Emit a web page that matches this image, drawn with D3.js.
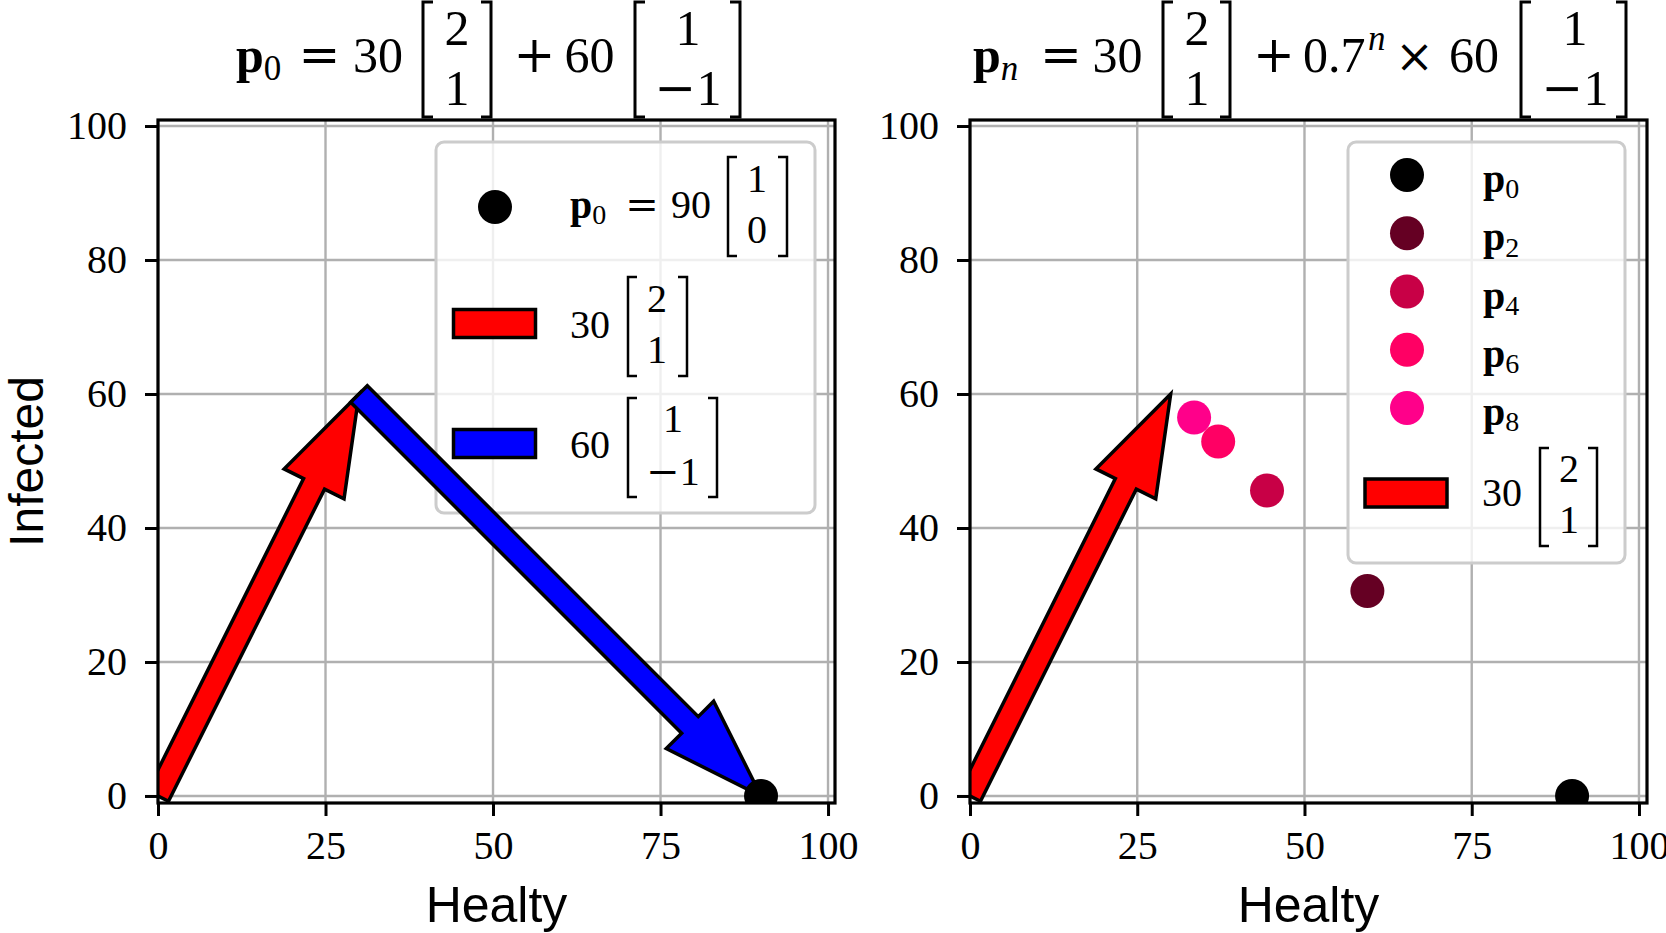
<!DOCTYPE html>
<html>
<head>
<meta charset="utf-8">
<script src="https://cdn.jsdelivr.net/npm/d3@7"></script>
<style>
  body { margin: 0; background: #fff; }
  svg text { font-family: "Liberation Serif", serif; fill: #000; }
  svg text.op { font-family: "DejaVu Serif", serif; }
  svg text.lab { font-family: "Liberation Sans", sans-serif; }
</style>
</head>
<body>
<div id="chart"></div>
<script>
// data
const xTicks = [0, 25, 50, 75, 100];
const yTicks = [0, 20, 40, 60, 80, 100];

// arrows: tail point + vector (Healty, Infected)
const arrowTails = [[0, 0], [30, 60]];
const arrowVecs = [[30, 60], [60, -60]];

const p0Point = [90, 0];

// right panel points p_0, p_2, ... p_8
const pnNames = ["0", "2", "4", "6", "8"];
const pnX = [90, 59.4, 44.4, 37.1, 33.5];
const pnY = [0, 30.6, 45.6, 52.9, 56.5];

// vector entries used in titles / legends
const vecA = ["2", "1"];
const vecB = ["1", "\u22121"];
const vecP0 = ["1", "0"];

const W = 1666, H = 933;
const plotTop = 120, plotBottom = 803;
const yMin = -1.05, yMax = 100.9;

const red = "#ff0000", blue = "#0000ff";
const pnColors = ["#000000", "#650023", "#c80046", "#ff0064", "#ff008a"];

const svg = d3.select("#chart")
    .append("svg")
    .attr("width", W)
    .attr("height", H)
    .attr("viewBox", `0 0 ${W} ${H}`);

const defs = svg.append("defs");

// small helpers
const txt = (g, x, y, s, size, anchor = "middle") =>
    g.append("text")
        .attr("x", x).attr("y", y)
        .attr("font-size", size)
        .attr("text-anchor", anchor)
        .text(s);

// operators (=, +, x) in a font with wider math glyphs
const op = (g, x, y, s, size) => txt(g, x, y, s, size).attr("class", "op");

// entry text; a leading minus is drawn in the operator font
const entry = (g, x, y, s, size) => {
    const t = g.append("text")
        .attr("x", x).attr("y", y)
        .attr("font-size", size)
        .attr("text-anchor", "middle");
    if (s.startsWith("\u2212")) {
        t.append("tspan").style("font-family", "DejaVu Serif, serif").text("\u2212");
        t.append("tspan").text(s.slice(1));
    } else {
        t.text(s);
    }
    return t;
};

// bold p with subscript
const pSub = (g, x, y, sub, size, italicSub = false) => {
    const t = g.append("text").attr("x", x).attr("y", y).attr("font-size", size);
    t.append("tspan").attr("font-weight", "bold").text("p");
    t.append("tspan")
        .attr("font-size", size * 0.7)
        .attr("dy", size * 0.16)
        .attr("font-style", italicSub ? "italic" : "normal")
        .text(sub);
    return t;
};

// column vector with square brackets
const matrix = (g, xl, xr, yt, yb, entries, cx, baselines, size, sw, hook) => {
    const path = `M${xl + hook},${yt}H${xl}V${yb}H${xl + hook}` +
                 `M${xr - hook},${yt}H${xr}V${yb}H${xr - hook}`;
    g.append("path")
        .attr("d", path)
        .attr("fill", "none")
        .attr("stroke", "#000")
        .attr("stroke-width", sw);
    entries.forEach((e, i) => entry(g, cx, baselines[i], e, size));
};

// matplotlib style FancyArrow (length includes head)
const arrowPath = (xs, ys, x0, y0, dx, dy) => {
    const len = Math.hypot(dx, dy);
    const ux = dx / len, uy = dy / len, vx = -uy, vy = ux;
    const w = 3.5, hw = 10, hl = 15;
    const loc = [[len, 0], [len - hl, hw / 2], [len - hl, w / 2], [0, w / 2],
                 [0, -w / 2], [len - hl, -w / 2], [len - hl, -hw / 2]];
    return "M" + loc.map(([u, v]) =>
        [xs(x0 + u * ux + v * vx), ys(y0 + u * uy + v * vy)].join(",")).join("L") + "Z";
};

const panels = [
    { id: "L", left: 158, right: 835, xMax: 101.04 },
    { id: "R", left: 970, right: 1647, xMax: 101.2 }
];

const makePanel = (p) => {
    const xs = d3.scaleLinear().domain([0, p.xMax]).range([p.left, p.right]);
    const ys = d3.scaleLinear().domain([yMin, yMax]).range([plotBottom, plotTop]);

    defs.append("clipPath").attr("id", "clip" + p.id)
        .append("rect")
        .attr("x", p.left).attr("y", plotTop)
        .attr("width", p.right - p.left).attr("height", plotBottom - plotTop);

    const root = svg.append("g");
    const grid = root.append("g");
    const legend = root.append("g");
    const marks = root.append("g").attr("clip-path", `url(#clip${p.id})`);
    const frame = root.append("g");

    grid.selectAll("line.gx")
        .data(xTicks)
        .join("line")
        .attr("class", "gx")
        .attr("x1", d => xs(d)).attr("x2", d => xs(d))
        .attr("y1", plotTop).attr("y2", plotBottom)
        .attr("stroke", "#b0b0b0").attr("stroke-width", 2.4);

    grid.selectAll("line.gy")
        .data(yTicks)
        .join("line")
        .attr("class", "gy")
        .attr("x1", p.left).attr("x2", p.right)
        .attr("y1", d => ys(d)).attr("y2", d => ys(d))
        .attr("stroke", "#b0b0b0").attr("stroke-width", 2.4);

    const bottomAxis = d3.axisBottom(xs)
        .tickValues(xTicks)
        .tickSize(13)
        .tickPadding(15)
        .tickFormat(d3.format("d"));

    const leftAxis = d3.axisLeft(ys)
        .tickValues(yTicks)
        .tickSize(13)
        .tickPadding(18)
        .tickFormat(d3.format("d"));

    frame.append("g")
        .attr("transform", `translate(0, ${plotBottom})`)
        .call(bottomAxis);
    frame.append("g")
        .attr("transform", `translate(${p.left}, 0)`)
        .call(leftAxis);

    frame.selectAll(".domain").remove();
    frame.selectAll(".tick line").attr("stroke", "#000").attr("stroke-width", 3);
    frame.selectAll(".tick text")
        .attr("font-size", 40)
        .attr("fill", "#000");

    frame.append("rect")
        .attr("x", p.left).attr("y", plotTop)
        .attr("width", p.right - p.left).attr("height", plotBottom - plotTop)
        .attr("fill", "none")
        .attr("stroke", "#000")
        .attr("stroke-width", 3.2);

    // x label
    frame.append("text")
        .attr("class", "lab")
        .attr("x", (p.left + p.right) / 2)
        .attr("y", 922)
        .attr("text-anchor", "middle")
        .attr("font-size", 50)
        .text("Healty");

    return { xs, ys, legend, marks };
};

const legendBox = (g, x, y, w, h) =>
    g.append("rect")
        .attr("x", x).attr("y", y)
        .attr("width", w).attr("height", h)
        .attr("rx", 8)
        .attr("fill", "#fff").attr("fill-opacity", 0.8)
        .attr("stroke", "#cccccc").attr("stroke-width", 3);

const legendRect = (g, x, y, color) =>
    g.append("rect")
        .attr("x", x).attr("y", y)
        .attr("width", 82).attr("height", 28)
        .attr("fill", color)
        .attr("stroke", "#000").attr("stroke-width", 3.5);

// ---------- left panel ----------
const left = makePanel(panels[0]);

legendBox(left.legend, 436, 142, 379, 371);
left.legend.append("circle").attr("cx", 495).attr("cy", 207).attr("r", 17).attr("fill", "#000");
pSub(left.legend, 570, 218, "0", 40);
op(left.legend, 642, 218, "=", 40);
txt(left.legend, 691, 218, "90", 40);
matrix(left.legend, 728, 787, 157, 256, vecP0, 757, [192, 243], 40, 2.5, 9);

legendRect(left.legend, 453.5, 309.5, red);
txt(left.legend, 590, 338, "30", 40);
matrix(left.legend, 628, 687, 277, 376, vecA, 657, [312, 363], 40, 2.5, 9);

legendRect(left.legend, 453.5, 429.5, blue);
txt(left.legend, 590, 458, "60", 40);
matrix(left.legend, 628, 717, 398, 497, vecB, 673, [432, 485], 40, 2.5, 9);

left.marks.selectAll("path.arrow")
    .data(arrowTails)
    .join("path")
    .attr("class", "arrow")
    .attr("d", (d, i) => arrowPath(left.xs, left.ys, d[0], d[1], arrowVecs[i][0], arrowVecs[i][1]))
    .attr("fill", (d, i) => i === 0 ? red : blue)
    .attr("stroke", "#000")
    .attr("stroke-width", 3.5)
    .attr("stroke-linejoin", "miter")
    .attr("stroke-miterlimit", 10);

left.marks.append("circle")
    .attr("cx", left.xs(p0Point[0]))
    .attr("cy", left.ys(p0Point[1]))
    .attr("r", 17)
    .attr("fill", "#000");

// y label (left only)
svg.append("text")
    .attr("class", "lab")
    .attr("transform", "translate(43, 461.5) rotate(-90)")
    .attr("text-anchor", "middle")
    .attr("font-size", 48)
    .text("Infected");

// left title
const tl = svg.append("g");
pSub(tl, 236, 72, "0", 50);
op(tl, 319.5, 72, "=", 50);
txt(tl, 378, 72, "30", 50);
matrix(tl, 423, 491, 2, 117, vecA, 457, [45, 105], 50, 3, 10);
op(tl, 534.5, 72, "+", 50);
txt(tl, 589.5, 72, "60", 50);
matrix(tl, 635, 740, 2, 117, vecB, 688, [45, 105], 50, 3, 10);

// ---------- right panel ----------
const right = makePanel(panels[1]);

legendBox(right.legend, 1348, 142, 277, 421);
const legY = d3.scalePoint().domain(pnNames).range([175, 408]);
right.legend.selectAll("circle")
    .data(pnNames)
    .join("circle")
    .attr("cx", 1407)
    .attr("cy", d => legY(d))
    .attr("r", 17)
    .attr("fill", (d, i) => pnColors[i]);
pnNames.forEach(n => pSub(right.legend, 1483, legY(n) + 17, n, 40));

legendRect(right.legend, 1365, 479, red);
txt(right.legend, 1502, 506, "30", 40);
matrix(right.legend, 1540, 1597, 448, 546, vecA, 1569, [482, 533], 40, 2.5, 9);

right.marks.append("path")
    .attr("d", arrowPath(right.xs, right.ys, arrowTails[0][0], arrowTails[0][1], arrowVecs[0][0], arrowVecs[0][1]))
    .attr("fill", red)
    .attr("stroke", "#000")
    .attr("stroke-width", 3.5)
    .attr("stroke-miterlimit", 10);

right.marks.selectAll("circle")
    .data(pnX)
    .join("circle")
    .attr("cx", d => right.xs(d))
    .attr("cy", (d, i) => right.ys(pnY[i]))
    .attr("r", 17)
    .attr("fill", (d, i) => pnColors[i]);

// right title
const tr = svg.append("g");
pSub(tr, 973, 72, "n", 50, true);
op(tr, 1061, 72, "=", 50);
txt(tr, 1117.5, 72, "30", 50);
matrix(tr, 1163, 1230, 2, 117, vecA, 1197, [45, 105], 50, 3, 10);
op(tr, 1274, 72, "+", 50);
txt(tr, 1303, 72, "0.7", 50, "start");
tr.append("text")
    .attr("x", 1368).attr("y", 50)
    .attr("font-size", 35)
    .attr("font-style", "italic")
    .text("n");
op(tr, 1414.5, 72, "\u00d7", 46);
txt(tr, 1474, 72, "60", 50);
matrix(tr, 1521, 1626, 2, 117, vecB, 1575, [45, 105], 50, 3, 10);
</script>
</body>
</html>
